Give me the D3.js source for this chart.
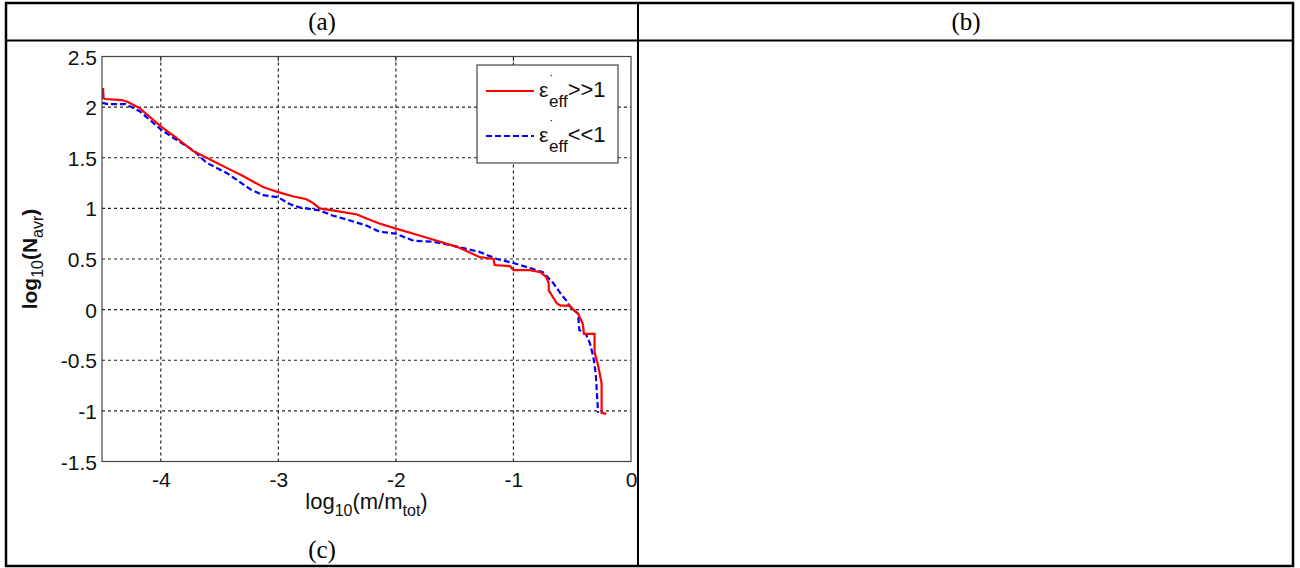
<!DOCTYPE html>
<html lang="en">
<head>
<meta charset="utf-8" />
<title>log10(N_avr) vs log10(m/m_tot)</title>
<script src="https://d3js.org/d3.v7.min.js"></script>
<style>
  body { margin: 0; background: #fff; }
  svg { display: block; }
  .tick text { font-family: "Liberation Sans", Arial, sans-serif; font-size: 21px; fill: #111; }
</style>
</head>
<body>
<div id="chart"></div>
<script>
// x values: log10(m/m_tot), y values: log10(N_avr)
var redX = [-4.49, -4.49, -4.47, -4.33, -4.28, -4.18, -4.00, -3.87, -3.73, -3.61, -3.44, -3.30, -3.13, -3.00, -2.88,
            -2.76, -2.70, -2.65, -2.54, -2.33, -2.25, -2.14, -2.00, -1.85, -1.68, -1.48, -1.40, -1.29, -1.17, -1.16,
            -1.03, -1.00, -0.86, -0.77, -0.72, -0.70, -0.70, -0.63, -0.60, -0.52, -0.49, -0.45, -0.41, -0.40, -0.31,
            -0.31, -0.28, -0.25, -0.25, -0.21];
var redY = [2.19, 2.09, 2.08, 2.07, 2.05, 1.99, 1.81, 1.70, 1.57, 1.50, 1.40, 1.32, 1.21, 1.16, 1.12,
            1.09, 1.05, 1.00, 0.98, 0.94, 0.90, 0.85, 0.80, 0.75, 0.69, 0.62, 0.58, 0.52, 0.50, 0.44,
            0.43, 0.39, 0.39, 0.37, 0.32, 0.26, 0.19, 0.06, 0.04, 0.04, 0.00, -0.04, -0.14, -0.24, -0.24,
            -0.42, -0.55, -0.73, -1.02, -1.03];
var blueX = [-4.49, -4.49, -4.45, -4.30, -4.18, -4.00, -3.87, -3.72, -3.61, -3.44, -3.39, -3.24, -3.13, -3.00, -2.90,
             -2.82, -2.65, -2.54, -2.39, -2.25, -2.14, -2.00, -1.85, -1.68, -1.51, -1.29, -1.14, -1.00, -0.83, -0.75,
             -0.66, -0.60, -0.55, -0.52, -0.45, -0.44, -0.38, -0.35, -0.32, -0.30, -0.28];
var blueY = [2.14, 2.04, 2.03, 2.03, 1.96, 1.78, 1.68, 1.57, 1.45, 1.35, 1.31, 1.19, 1.13, 1.11, 1.04,
             1.01, 0.98, 0.93, 0.88, 0.83, 0.77, 0.75, 0.68, 0.67, 0.63, 0.57, 0.50, 0.46, 0.40, 0.37,
             0.26, 0.16, 0.09, 0.03, -0.04, -0.20, -0.25, -0.33, -0.47, -0.63, -1.02];
var xTicks = [-4, -3, -2, -1, 0];
var yTicks = [-1.5, -1, -0.5, 0, 0.5, 1, 1.5, 2, 2.5];
var panelLabels = ["(a)", "(b)", "(c)"];

var width = 1300;
var height = 568;

var svg = d3.select("#chart")
  .append("svg")
  .attr("width", width)
  .attr("height", height);

// table frame
var tLeft = 6, tRight = 1293, tTop = 3, tMid = 40.5, tBottom = 566, tCol = 638;

// chart clipped to cell (c)
svg.append("clipPath").attr("id", "cellClip")
  .append("rect")
  .attr("x", tLeft).attr("y", tMid)
  .attr("width", tCol - tLeft).attr("height", tBottom - tMid);

var chart = svg.append("g").attr("clip-path", "url(#cellClip)");

var xScale = d3.scaleLinear().domain([-4.5, 0]).range([102, 631]);
var yScale = d3.scaleLinear().domain([-1.5, 2.5]).range([461.5, 56.5]);
var x0 = xScale.range()[0], x1 = xScale.range()[1];
var y0 = yScale.range()[0], y1 = yScale.range()[1];

chart.append("rect")
  .attr("x", x0).attr("y", y1)
  .attr("width", x1 - x0).attr("height", y0 - y1)
  .attr("fill", "#fff");

// grid lines
chart.append("g").selectAll("line")
  .data(xTicks.filter(function(d) { return d > -4.5 && d < 0; }))
  .join("line")
  .attr("x1", function(d) { return xScale(d); })
  .attr("x2", function(d) { return xScale(d); })
  .attr("y1", y0).attr("y2", y1)
  .attr("stroke", "#222").attr("stroke-width", 1.2)
  .attr("stroke-dasharray", "3,3");

chart.append("g").selectAll("line")
  .data(yTicks.filter(function(d) { return d > -1.5 && d < 2.5; }))
  .join("line")
  .attr("x1", x0).attr("x2", x1)
  .attr("y1", function(d) { return yScale(d); })
  .attr("y2", function(d) { return yScale(d); })
  .attr("stroke", "#222").attr("stroke-width", 1.2)
  .attr("stroke-dasharray", "3,3");

// curves
var line = d3.line()
  .x(function(d) { return xScale(d[0]); })
  .y(function(d) { return yScale(d[1]); });

var redData = redX.map(function(v, i) { return [v, redY[i]]; });
var blueData = blueX.map(function(v, i) { return [v, blueY[i]]; });

chart.append("path")
  .datum(blueData)
  .attr("d", line)
  .attr("fill", "none")
  .attr("stroke", "#0000ff")
  .attr("stroke-width", 2.2)
  .attr("stroke-dasharray", "6,3");

chart.append("path")
  .datum(redData)
  .attr("d", line)
  .attr("fill", "none")
  .attr("stroke", "#ff0000")
  .attr("stroke-width", 2.2);

// axes (plain hyphen as in the original)
var xAxis = d3.axisBottom(xScale).tickValues(xTicks).tickSize(0).tickPadding(11)
  .tickFormat(function(d) { return String(d); });
var yAxis = d3.axisLeft(yScale).tickValues(yTicks).tickSize(0).tickPadding(5)
  .tickFormat(function(d) { return String(d); });

var gx = chart.append("g").attr("transform", "translate(0," + y0 + ")").call(xAxis);
var gy = chart.append("g").attr("transform", "translate(" + x0 + ",0)").call(yAxis);
gx.select(".domain").remove();
gy.select(".domain").remove();
gy.selectAll(".tick text").attr("dy", "0.36em");

// top tick marks (inward)
chart.append("g").selectAll("line")
  .data(xTicks.filter(function(d) { return d > -4.5 && d < 0; }))
  .join("line")
  .attr("x1", function(d) { return xScale(d); })
  .attr("x2", function(d) { return xScale(d); })
  .attr("y1", y1).attr("y2", y1 + 5)
  .attr("stroke", "#333");

// plot box
chart.append("rect")
  .attr("x", x0).attr("y", y1)
  .attr("width", x1 - x0).attr("height", y0 - y1)
  .attr("fill", "none")
  .attr("stroke", "#444").attr("stroke-width", 1.2);

// axis labels
var xl = chart.append("text")
  .attr("x", (x0 + x1) / 2)
  .attr("y", 509)
  .attr("text-anchor", "middle")
  .attr("font-family", "Liberation Sans, Arial, sans-serif")
  .attr("font-size", 22)
  .attr("fill", "#111");
xl.append("tspan").text("log");
xl.append("tspan").attr("font-size", 16).attr("dy", 7).text("10");
xl.append("tspan").attr("dy", -7).text("(m/m");
xl.append("tspan").attr("font-size", 16).attr("dy", 7).text("tot");
xl.append("tspan").attr("dy", -7).text(")");

var yl = chart.append("text")
  .attr("transform", "translate(37," + ((y0 + y1) / 2) + ") rotate(-90)")
  .attr("text-anchor", "middle")
  .attr("font-family", "Liberation Sans, Arial, sans-serif")
  .attr("font-size", 21)
  .attr("font-weight", "bold")
  .attr("fill", "#111");
yl.append("tspan").text("log");
yl.append("tspan").attr("font-size", 16).attr("font-weight", "normal").attr("dy", 6).text("10");
yl.append("tspan").attr("dy", -6).text("(N");
yl.append("tspan").attr("font-size", 16).attr("font-weight", "normal").attr("dy", 6).text("avr");
yl.append("tspan").attr("dy", -6).text(")");

// legend
var legend = chart.append("g");
legend.append("rect")
  .attr("x", 477).attr("y", 65)
  .attr("width", 141).attr("height", 98)
  .attr("fill", "#fff")
  .attr("stroke", "#444").attr("stroke-width", 1.2);

var legendItems = [
  { color: "#ff0000", dash: null, rel: ">>1", y: 91 },
  { color: "#0000ff", dash: "6,3", rel: "<<1", y: 136 }
];
legendItems.forEach(function(it) {
  legend.append("line")
    .attr("x1", 486).attr("x2", 534)
    .attr("y1", it.y).attr("y2", it.y)
    .attr("stroke", it.color).attr("stroke-width", 2.2)
    .attr("stroke-dasharray", it.dash);
  var t = legend.append("text")
    .attr("x", 539).attr("y", it.y + 6)
    .attr("font-family", "Liberation Sans, Arial, sans-serif")
    .attr("font-size", 22)
    .attr("fill", "#111");
  t.append("tspan").attr("font-size", 21).text("ε");
  t.append("tspan").attr("font-size", 14).attr("dx", 1).attr("dy", -11).text("˙");
  t.append("tspan").attr("font-size", 17).attr("dx", -5).attr("dy", 21).text("eff");
  t.append("tspan").attr("dy", -10).text(it.rel);
});

// table frame
var frame = svg.append("g").attr("stroke", "#000").attr("fill", "none");
frame.append("rect")
  .attr("x", tLeft).attr("y", tTop)
  .attr("width", tRight - tLeft).attr("height", tBottom - tTop)
  .attr("stroke-width", 2.5);
frame.append("line")
  .attr("x1", tLeft).attr("x2", tRight).attr("y1", tMid).attr("y2", tMid)
  .attr("stroke-width", 2);
frame.append("line")
  .attr("x1", tCol).attr("x2", tCol).attr("y1", tTop).attr("y2", tBottom)
  .attr("stroke-width", 2);

// panel labels
var labelPos = [[322, 30], [966, 30], [322, 558]];
svg.append("g").selectAll("text")
  .data(panelLabels)
  .join("text")
  .attr("x", function(d, i) { return labelPos[i][0]; })
  .attr("y", function(d, i) { return labelPos[i][1]; })
  .attr("text-anchor", "middle")
  .attr("font-family", "Liberation Serif, Times New Roman, serif")
  .attr("font-size", 25)
  .attr("fill", "#000")
  .text(function(d) { return d; });
</script>
</body>
</html>
